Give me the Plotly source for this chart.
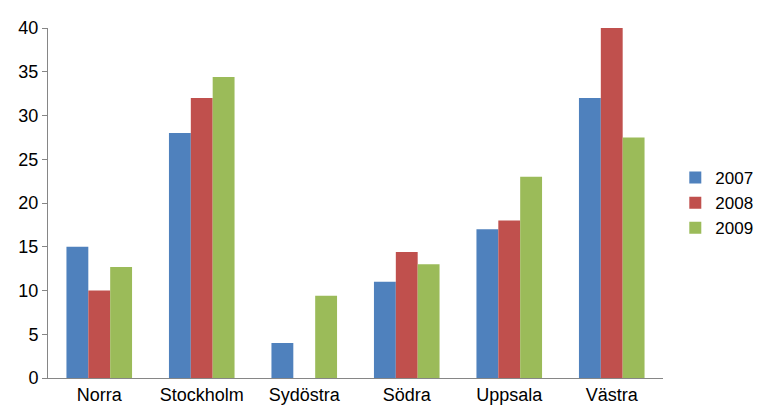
import plotly.graph_objects as go

regions = ["Norra", "Stockholm", "Sydöstra", "Södra", "Uppsala", "Västra"]
v2007 = [15, 28, 4, 11, 17, 32]
v2008 = [10, 32, 0, 14.4, 18, 40]
v2009 = [12.7, 34.4, 9.4, 13, 23, 27.5]

fig = go.Figure()
fig.add_bar(x=regions, y=v2007, name="2007", marker_color="#4F81BD", marker_line_width=0)
fig.add_bar(x=regions, y=v2008, name="2008", marker_color="#C0504D", marker_line_width=0)
fig.add_bar(x=regions, y=v2009, name="2009", marker_color="#9BBB59", marker_line_width=0)

fig.update_layout(
    width=765, height=411,
    margin=dict(l=38, r=110, t=10, b=41),
    plot_bgcolor="white", paper_bgcolor="white",
    font=dict(family="Liberation Sans, Arial", size=18, color="black"),
    bargap=0.36, bargroupgap=0,
    legend=dict(x=1.02, xanchor="left", y=0.5, yanchor="middle",
                font=dict(size=17), tracegroupgap=8, itemwidth=30),
    xaxis=dict(showline=True, linecolor="#868686", ticks="", showgrid=False),
    yaxis=dict(range=[0, 40], dtick=5, showline=True, linecolor="#868686",
               ticks="outside", ticklen=5, tickcolor="#868686",
               showgrid=False, zeroline=False),
)

fig.write_html("out.html")
